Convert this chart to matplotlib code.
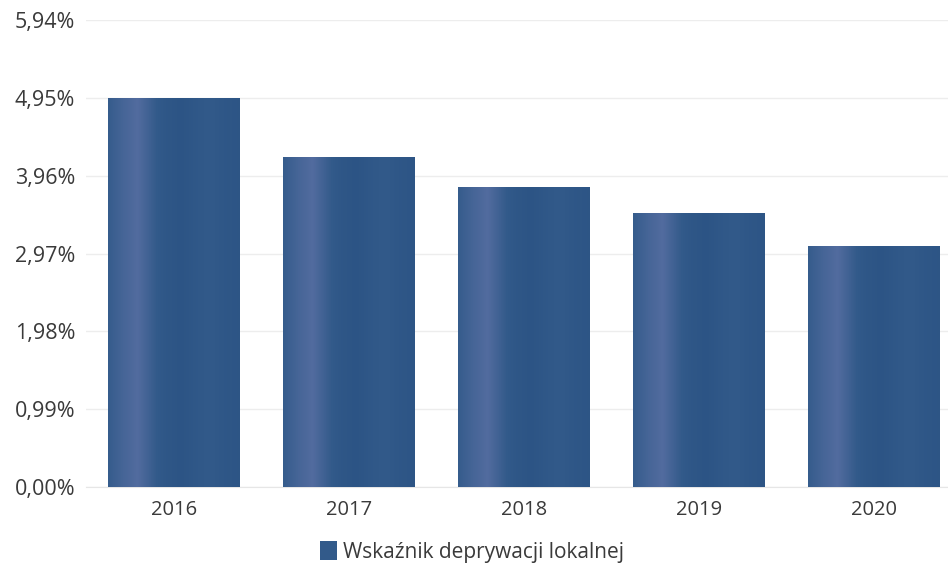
import matplotlib
matplotlib.use("Agg")
import matplotlib.pyplot as plt
import numpy as np
from matplotlib.patches import Patch
from matplotlib.colors import LinearSegmentedColormap

# data
years = ["2016", "2017", "2018", "2019", "2020"]
values = [4.95, 4.20, 3.82, 3.49, 3.07]
y_ticks = [0.00, 0.99, 1.98, 2.97, 3.96, 4.95, 5.94]
series_name = "Wskaźnik deprywacji lokalnej"

plt.rcParams['font.family'] = ['Open Sans', 'DejaVu Sans']
text_col = '#3a3a3a'
bar_col = '#325a8a'

fig = plt.figure(figsize=(9.48, 5.71), dpi=100)
ax = fig.add_axes([0.0912, 0.147, 0.923, 0.818])

x = np.arange(len(years))
bars = ax.bar(x, values, width=0.75, color=bar_col, zorder=2)

# soft vertical sheen on each bar, clipped to the bar
cmap = LinearSegmentedColormap.from_list('sheen', ['#2a5283', '#325a8a', '#5a70a4'])
sheen = np.array([0.55, 0.75, 0.9, 0.6, 0.3, 0.15, 0.35, 0.5, 0.3, 0.2])
grad = np.interp(np.linspace(0, 1, 80), np.linspace(0, 1, len(sheen)), sheen)
for b in bars:
    x0, w, h = b.get_x(), b.get_width(), b.get_height()
    im = ax.imshow(grad[np.newaxis, :], cmap=cmap, vmin=0, vmax=1,
                   extent=[x0, x0 + w, 0, h], aspect='auto', zorder=3)
    im.set_clip_path(b)

ax.set_xlim(-0.5, len(years) - 0.5)
ax.set_ylim(0, 5.94)
ax.set_yticks(y_ticks)
ax.set_yticklabels([f"{v:.2f}%".replace(".", ",") for v in y_ticks])
ax.set_xticks(x)
ax.set_xticklabels(years)

ax.grid(axis='y', color='#ededed', linewidth=1, zorder=0)
for s in ['top', 'right', 'left']:
    ax.spines[s].set_visible(False)
ax.spines['bottom'].set_color('#e6e6e6')
ax.tick_params(axis='both', length=0, colors=text_col)
ax.tick_params(axis='y', pad=8, labelsize=15.5)
ax.tick_params(axis='x', pad=9, labelsize=14.5)

handle = Patch(facecolor=bar_col, edgecolor='none')
fig.legend([handle], [series_name], loc='center', bbox_to_anchor=(472 / 948, 1 - 552 / 571),
           frameon=False, fontsize=15, handlelength=0.85, handleheight=1.05,
           handletextpad=0.3, labelcolor=text_col)

fig.savefig("out.png", dpi=100)
